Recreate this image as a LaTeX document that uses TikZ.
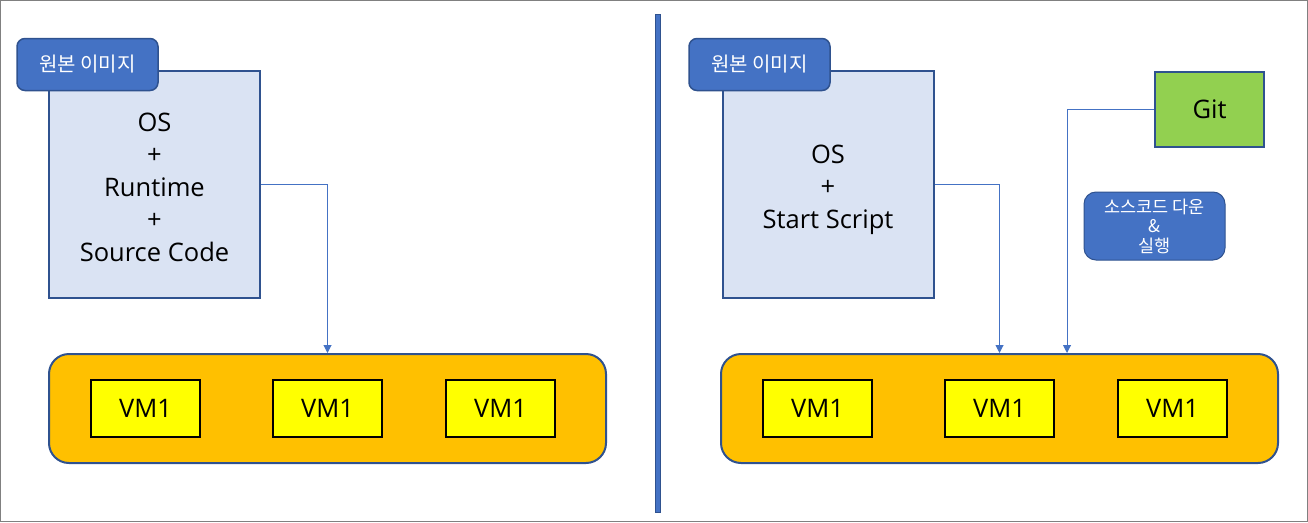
\documentclass[tikz,border=0pt]{standalone}
\usepackage{fontspec}
\setmainfont{Open Sans}
\newfontfamily\kr{Noto Sans CJK KR}
\usetikzlibrary{arrows.meta}
\definecolor{tabblue}{HTML}{4472C4}
\definecolor{edgeblue}{HTML}{2F528F}
\definecolor{lightbox}{HTML}{DAE3F3}
\definecolor{orangefill}{HTML}{FFC000}
\definecolor{vmyellow}{HTML}{FFFF00}
\definecolor{gitgreen}{HTML}{92D050}
\definecolor{framegray}{HTML}{808080}
\begin{document}
\begin{tikzpicture}[x=1pt,y=-1pt,
  imgbox/.style={draw=edgeblue,line width=2pt,fill=lightbox,minimum width=211pt,minimum height=227pt,inner sep=0pt},
  imgtext/.style={align=center,inner sep=0pt,font=\fontsize{25.5}{32.5}\selectfont},
  tabbox/.style={draw=edgeblue,line width=1.5pt,fill=tabblue,rounded corners=8pt,minimum width=141pt,minimum height=52pt,inner sep=0pt,text=white,font=\kr\fontsize{20}{24}\selectfont},
  cont/.style={draw=edgeblue,line width=2pt,fill=orangefill,rounded corners=20pt,minimum width=557pt,minimum height=109pt,inner sep=0pt},
  vm/.style={draw=black,line width=2pt,fill=vmyellow,minimum width=109pt,minimum height=57pt,inner sep=0pt,font=\fontsize{25.5}{30}\selectfont},
  gitbox/.style={draw=edgeblue,line width=2pt,fill=gitgreen,minimum width=109pt,minimum height=75pt,inner sep=0pt,font=\fontsize{25.5}{30}\selectfont},
  notebox/.style={draw=edgeblue,line width=1pt,fill=tabblue,rounded corners=12pt,minimum width=141pt,minimum height=68pt,inner sep=0pt,align=center,text=white,font=\kr\fontsize{17.5}{19.5}\selectfont},
  arr/.style={draw=tabblue,line width=1pt,-{Triangle[width=8pt,length=8pt]}}
]
\useasboundingbox (0,0) rectangle (1308,522);
\draw[framegray,line width=1pt] (0.5,0.5) rectangle (1307.5,521.5);
\draw[edgeblue,fill=tabblue,line width=1pt] (655.5,14) rectangle (660.5,512);

% left
\node[imgbox] (boxL) at (154.5,184.5) {};
\node[imgtext] (boxLtext) at ([yshift=-2.5pt]boxL.center) {OS\\+\\Runtime\\+\\Source Code};
\node[tabbox] (tabL) at (87.5,64.5) {원본 이미지};
\node[cont] (contL) at (327.5,408.5) {};
\node[vm] (vmL1) at (145.5,408.5) {VM1};
\node[vm] (vmL2) at (327.5,408.5) {VM1};
\node[vm] (vmL3) at (500.5,408.5) {VM1};
\draw[arr] (boxL.east) -| (contL.north);

% right
\node[imgbox] (boxR) at (828,184.5) {};
\node[imgtext] (boxRtext) at ([yshift=-5pt]boxR.center) {OS\\+\\Start Script};
\node[tabbox] (tabR) at (759.5,64.5) {원본 이미지};
\node[gitbox] (git) at (1209.5,109.5) {Git};
\node[notebox] (note) at (1154.5,226) {소스코드 다운\\\&\\실행};
\node[cont] (contR) at (999.5,408.5) {};
\node[vm] (vmR1) at (817.5,408.5) {VM1};
\node[vm] (vmR2) at (999.5,408.5) {VM1};
\node[vm] (vmR3) at (1172.5,408.5) {VM1};
\draw[arr] (boxR.east) -| (contR.north);
\draw[arr] (git.west) -| ([xshift=67.5pt]contR.north);
\end{tikzpicture}
\end{document}
